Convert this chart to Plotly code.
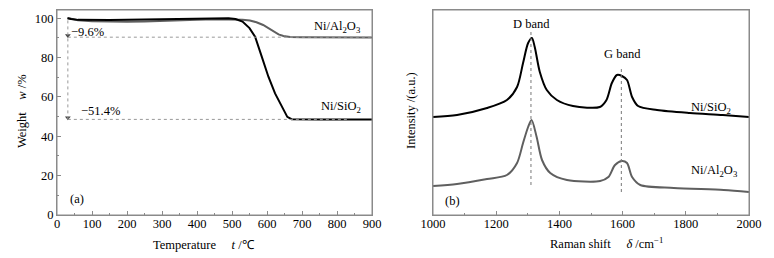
import plotly.graph_objects as go

# ---------------- data: TGA (panel a) ----------------
t_sio2 = [30, 40, 60, 100, 150, 200, 250, 300, 350, 400, 450, 490, 510, 530, 550, 566,
          585, 604, 623, 642, 658, 670, 690, 750, 800, 850, 900]
w_sio2 = [100.0, 99.6, 99.2, 99.0, 99.1, 99.2, 99.4, 99.5, 99.7, 99.9, 100.0, 100.0, 99.6,
          98.3, 95.0, 90.6, 80.5, 70.3, 61.8, 55.0, 49.9, 48.7, 48.6, 48.6, 48.6, 48.6, 48.6]

t_al2o3 = [30, 40, 60, 100, 150, 200, 250, 300, 350, 400, 450, 500, 530, 551, 570, 589,
           605, 618, 633, 647, 666, 700, 800, 900]
w_al2o3 = [100.2, 99.8, 99.0, 98.5, 98.2, 98.2, 98.4, 98.8, 99.1, 99.3, 99.5, 99.5, 99.3,
           98.9, 98.0, 96.6, 94.8, 93.2, 91.8, 91.0, 90.5, 90.4, 90.4, 90.3]

loss_start_t = 31
loss_levels = [90.4, 48.6]
loss_line_end = [900, 831]
loss_labels = ["\u22129.6%", "\u221251.4%"]
loss_label_pos = [(35, 93.0), (62, 52.8)]

# ---------------- data: Raman (panel b) ----------------
shift_sio2 = [1000, 1076, 1171, 1234, 1266, 1285, 1301, 1313, 1322, 1338, 1360, 1392, 1443,
              1528, 1549, 1566, 1582, 1598, 1614, 1630, 1649, 1709, 1813, 1917, 2000]
int_sio2 = [98, 100, 107, 115, 128, 152, 172, 177, 168, 143, 125, 115, 109,
            108, 115, 132, 140, 139, 135, 118, 109, 105, 102, 100, 98]

shift_al2o3 = [1000, 1076, 1171, 1234, 1266, 1285, 1301, 1312, 1328, 1345, 1371, 1424,
               1529, 1555, 1576, 1598, 1614, 1630, 1656, 1762, 1920, 2000]
int_al2o3 = [29, 31, 36, 40, 52, 72, 88, 95, 78, 55, 42, 35,
             34, 38, 50, 54, 52, 38, 30, 27, 25, 23]

band_pos = [1310, 1596]
band_line_top = [185, 148]
band_line_bottom = [30, 23]
band_labels = ["D band", "G band"]
band_label_y = [191, 161]

FONT = "Liberation Serif"
FS = 12.5
AXC = "#8a8a8a"
GRAY = "#5f5f5f"

# page body margin offsets the figure by 8 px; figure sized to fit the window
OFF = 8
W, H = 774 - OFF, 258 - OFF
TOP_PX, BOT_PX = 10, 215


def px_x(p):
    return (p - OFF) / W


def px_y(p):
    return 1 - (p - OFF) / H


fig = go.Figure()

# panel a
fig.add_trace(go.Scatter(x=t_al2o3, y=w_al2o3, mode="lines", line=dict(color=GRAY, width=2),
                         xaxis="x", yaxis="y", showlegend=False))
fig.add_trace(go.Scatter(x=t_sio2, y=w_sio2, mode="lines", line=dict(color="black", width=2),
                         xaxis="x", yaxis="y", showlegend=False))
# arrow heads on the loss marker
fig.add_trace(go.Scatter(x=[loss_start_t] * len(loss_levels), y=[v + 0.9 for v in loss_levels],
                         mode="markers", marker=dict(symbol="triangle-down", size=5, color="#444"),
                         xaxis="x", yaxis="y", showlegend=False))

# panel b
fig.add_trace(go.Scatter(x=shift_sio2, y=int_sio2, mode="lines", line=dict(color="black", width=2),
                         line_shape="spline", line_smoothing=0.8, xaxis="x2", yaxis="y2", showlegend=False))
fig.add_trace(go.Scatter(x=shift_al2o3, y=int_al2o3, mode="lines", line=dict(color=GRAY, width=2),
                         line_shape="spline", line_smoothing=0.8, xaxis="x2", yaxis="y2", showlegend=False))

shapes = []
# explicit frames around both plot areas
for xr, yr in (("x domain", "y domain"), ("x2 domain", "y2 domain")):
    shapes.append(dict(type="rect", xref=xr, yref=yr, x0=0, x1=1, y0=0, y1=1, layer="above",
                       line=dict(color=AXC, width=1), fillcolor="rgba(0,0,0,0)"))
for lvl, xe in zip(loss_levels, loss_line_end):
    shapes.append(dict(type="line", xref="x", yref="y", x0=loss_start_t, x1=xe, y0=lvl, y1=lvl,
                       line=dict(color="#999", width=1, dash="dot")))
shapes.append(dict(type="line", xref="x", yref="y", x0=loss_start_t, x1=loss_start_t,
                   y0=min(loss_levels), y1=100, line=dict(color="#999", width=1, dash="dot")))
for bp, top, bot in zip(band_pos, band_line_top, band_line_bottom):
    shapes.append(dict(type="line", xref="x2", yref="y2", x0=bp, x1=bp, y0=bot, y1=top,
                       line=dict(color="#777", width=1, dash="dot")))

ann = []
tf = dict(family=FONT, size=FS, color="black")
for lab, (x, y) in zip(loss_labels, loss_label_pos):
    ann.append(dict(x=x, y=y, xref="x", yref="y", text=lab, showarrow=False, xanchor="left",
                    yanchor="middle", font=tf))
ann.append(dict(x=800, y=95.4, xref="x", yref="y", text="Ni/Al<sub>2</sub>O<sub>3</sub>",
                showarrow=False, xanchor="center", yanchor="middle", font=tf))
ann.append(dict(x=811, y=55, xref="x", yref="y", text="Ni/SiO<sub>2</sub>", showarrow=False,
                xanchor="center", yanchor="middle", font=tf))
ann.append(dict(x=56, y=8, xref="x", yref="y", text="(a)", showarrow=False,
                xanchor="center", yanchor="middle", font=tf))
for bp, lab, ly in zip(band_pos, band_labels, band_label_y):
    ann.append(dict(x=bp + 3, y=ly, xref="x2", yref="y2", text=lab, showarrow=False,
                    xanchor="center", yanchor="middle", font=tf))
ann.append(dict(x=1880, y=107, xref="x2", yref="y2", text="Ni/SiO<sub>2</sub>", showarrow=False,
                xanchor="center", yanchor="middle", font=tf))
ann.append(dict(x=1890, y=44, xref="x2", yref="y2", text="Ni/Al<sub>2</sub>O<sub>3</sub>",
                showarrow=False, xanchor="center", yanchor="middle", font=tf))
ann.append(dict(x=1062, y=14, xref="x2", yref="y2", text="(b)", showarrow=False,
                xanchor="center", yanchor="middle", font=tf))

# axis titles
ann.append(dict(x=px_x(204), y=px_y(245), xref="paper", yref="paper", xanchor="center", yanchor="middle",
                text="Temperature\u00a0\u00a0\u00a0\u00a0\u00a0<i>t</i>\u00a0/\u2103", showarrow=False, font=tf))
ann.append(dict(x=px_x(22), y=px_y(111), xref="paper", yref="paper", textangle=-90,
                xanchor="center", yanchor="middle",
                text="Weight\u00a0\u00a0\u00a0\u00a0<i>w</i>\u00a0/%", showarrow=False, font=tf))
ann.append(dict(x=px_x(606), y=px_y(243), xref="paper", yref="paper", xanchor="center", yanchor="middle",
                text="Raman shift\u00a0\u00a0\u00a0\u00a0\u00a0<i>\u03b4</i>\u00a0/cm<sup>\u22121</sup>",
                showarrow=False, font=tf))
ann.append(dict(x=px_x(411), y=px_y(111), xref="paper", yref="paper", textangle=-90,
                xanchor="center", yanchor="middle",
                text="Intensity /(a.u.)", showarrow=False, font=tf))

axis_common = dict(showline=True, mirror=True, linecolor=AXC, linewidth=1, showgrid=False,
                   zeroline=False, ticks="inside", tickcolor=AXC, ticklen=4, automargin=False,
                   tickfont=dict(family=FONT, size=FS, color="black"))

fig.update_layout(
    width=W, height=H, margin=dict(l=0, r=0, t=0, b=0, pad=0, autoexpand=False),
    paper_bgcolor="white", plot_bgcolor="white",
    font=dict(family=FONT, size=FS, color="black"),
    xaxis=dict(domain=[px_x(57), px_x(372)], range=[0, 900], dtick=100, anchor="y", ticklabelstandoff=-3,
               minor=dict(dtick=50, ticks="inside", ticklen=2, tickcolor=AXC), **axis_common),
    yaxis=dict(domain=[px_y(BOT_PX), px_y(TOP_PX)], range=[0, (BOT_PX - TOP_PX) / 1.967], dtick=20,
               anchor="x", minor=dict(dtick=10, ticks="inside", ticklen=2, tickcolor=AXC), **axis_common),
    xaxis2=dict(domain=[px_x(433), px_x(749)], range=[1000, 2000], dtick=200, anchor="y2", ticklabelstandoff=-3,
                minor=dict(dtick=100, ticks="inside", ticklen=2, tickcolor=AXC), **axis_common),
    yaxis2=dict(domain=[px_y(BOT_PX), px_y(TOP_PX)], range=[0, BOT_PX - TOP_PX], anchor="x2", automargin=False,
                showline=True, mirror=True, linecolor=AXC, linewidth=1, showgrid=False,
                zeroline=False, ticks="", showticklabels=False),
    shapes=shapes, annotations=ann,
)

fig.write_html("out.html")
